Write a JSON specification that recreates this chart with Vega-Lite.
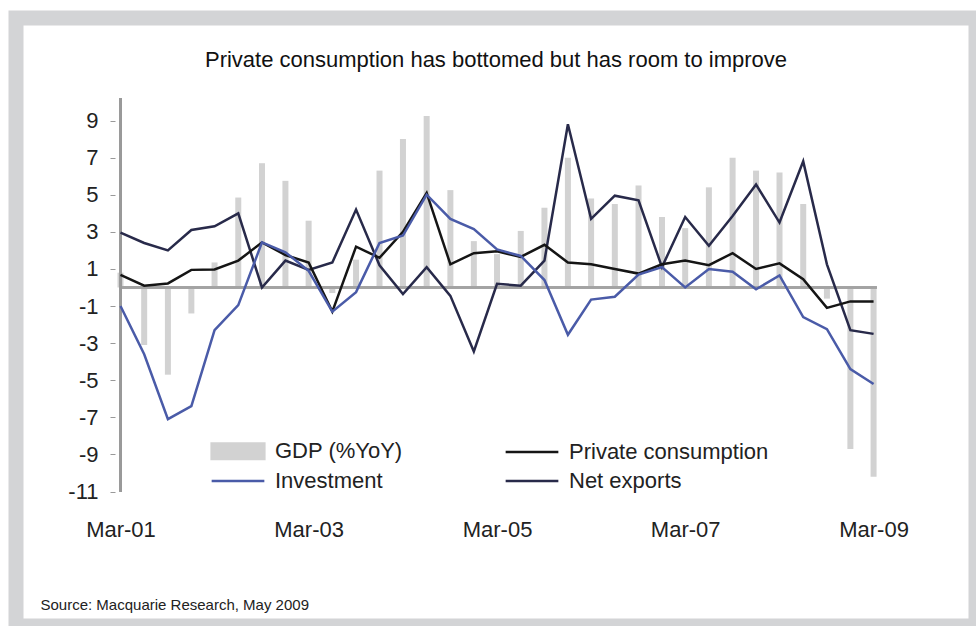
{
  "$schema": "https://vega.github.io/schema/vega-lite/v6.json",
  "width": 960,
  "height": 608,
  "autosize": {"type": "none"},
  "padding": {"left": 16, "top": 18, "right": 0, "bottom": 0},
  "background": "white",
  "config": {
    "view": {"stroke": "#d3d4d6", "strokeWidth": 15, "fill": "white"},
    "font": "Liberation Sans, Arial, sans-serif"
  },
  "title": {
    "text": "Private consumption has bottomed but has room to improve",
    "anchor": "middle",
    "frame": "group",
    "offset": -64,
    "baseline": "middle",
    "fontSize": 22,
    "fontWeight": "normal",
    "color": "#111111"
  },
  "data": {
    "values": [
      {"date": "2001-03-01", "gdp": 0.8, "consumption": 0.68, "investment": -1.0, "netExports": 2.96},
      {"date": "2001-06-01", "gdp": -3.1, "consumption": 0.1, "investment": -3.6, "netExports": 2.4},
      {"date": "2001-09-01", "gdp": -4.7, "consumption": 0.22, "investment": -7.1, "netExports": 2.0},
      {"date": "2001-12-01", "gdp": -1.4, "consumption": 0.95, "investment": -6.4, "netExports": 3.1},
      {"date": "2002-03-01", "gdp": 1.35, "consumption": 0.97, "investment": -2.3, "netExports": 3.3},
      {"date": "2002-06-01", "gdp": 4.85, "consumption": 1.45, "investment": -0.95, "netExports": 4.0},
      {"date": "2002-09-01", "gdp": 6.7, "consumption": 2.43, "investment": 2.43, "netExports": 0.0},
      {"date": "2002-12-01", "gdp": 5.75, "consumption": 1.75, "investment": 1.9, "netExports": 1.45},
      {"date": "2003-03-01", "gdp": 3.6, "consumption": 1.35, "investment": 0.9, "netExports": 0.95},
      {"date": "2003-06-01", "gdp": -0.3, "consumption": -1.3, "investment": -1.3, "netExports": 1.35},
      {"date": "2003-09-01", "gdp": 1.5, "consumption": 2.2, "investment": -0.25, "netExports": 4.2},
      {"date": "2003-12-01", "gdp": 6.3, "consumption": 1.6, "investment": 2.4, "netExports": 1.2},
      {"date": "2004-03-01", "gdp": 8.0, "consumption": 3.0, "investment": 2.8, "netExports": -0.35},
      {"date": "2004-06-01", "gdp": 9.25, "consumption": 5.1, "investment": 5.0, "netExports": 1.1},
      {"date": "2004-09-01", "gdp": 5.25, "consumption": 1.25, "investment": 3.7, "netExports": -0.45},
      {"date": "2004-12-01", "gdp": 2.5, "consumption": 1.85, "investment": 3.15, "netExports": -3.45},
      {"date": "2005-03-01", "gdp": 1.8, "consumption": 1.95, "investment": 2.05, "netExports": 0.2},
      {"date": "2005-06-01", "gdp": 3.05, "consumption": 1.65, "investment": 1.7, "netExports": 0.1},
      {"date": "2005-09-01", "gdp": 4.3, "consumption": 2.3, "investment": 0.4, "netExports": 1.45},
      {"date": "2005-12-01", "gdp": 7.0, "consumption": 1.35, "investment": -2.55, "netExports": 8.8},
      {"date": "2006-03-01", "gdp": 4.8, "consumption": 1.25, "investment": -0.65, "netExports": 3.7},
      {"date": "2006-06-01", "gdp": 4.5, "consumption": 1.0, "investment": -0.5, "netExports": 4.95},
      {"date": "2006-09-01", "gdp": 5.5, "consumption": 0.75, "investment": 0.7, "netExports": 4.7},
      {"date": "2006-12-01", "gdp": 3.8, "consumption": 1.25, "investment": 1.1, "netExports": 1.1},
      {"date": "2007-03-01", "gdp": 3.2, "consumption": 1.45, "investment": 0.0, "netExports": 3.8},
      {"date": "2007-06-01", "gdp": 5.4, "consumption": 1.2, "investment": 1.0, "netExports": 2.25},
      {"date": "2007-09-01", "gdp": 7.0, "consumption": 1.85, "investment": 0.85, "netExports": 3.85},
      {"date": "2007-12-01", "gdp": 6.3, "consumption": 1.0, "investment": -0.1, "netExports": 5.55},
      {"date": "2008-03-01", "gdp": 6.2, "consumption": 1.3, "investment": 0.65, "netExports": 3.5},
      {"date": "2008-06-01", "gdp": 4.5, "consumption": 0.45, "investment": -1.6, "netExports": 6.8},
      {"date": "2008-09-01", "gdp": -0.6, "consumption": -1.1, "investment": -2.25, "netExports": 1.25},
      {"date": "2008-12-01", "gdp": -8.7, "consumption": -0.75, "investment": -4.4, "netExports": -2.3},
      {"date": "2009-03-01", "gdp": -10.2, "consumption": -0.75, "investment": -5.2, "netExports": -2.5}
    ]
  },
  "layer": [
    {
      "mark": {"type": "bar", "size": 6},
      "encoding": {
        "x": {
          "field": "date",
          "type": "temporal",
          "scale": {
            "type": "utc",
            "domain": [
              {"year": 2000, "month": 2, "date": 9, "utc": true},
              {"year": 2010, "month": 3, "date": 14, "utc": true}
            ]
          },
          "axis": {
            "values": [
              {"year": 2001, "month": 3, "date": 1, "utc": true},
              {"year": 2003, "month": 3, "date": 1, "utc": true},
              {"year": 2005, "month": 3, "date": 1, "utc": true},
              {"year": 2007, "month": 3, "date": 1, "utc": true},
              {"year": 2009, "month": 3, "date": 1, "utc": true}
            ],
            "labelExpr": "utcFormat(datum.value, '%b-%y')",
            "domain": false,
            "ticks": false,
            "tickSize": 0,
            "grid": false,
            "labelPadding": 0,
            "labelBaseline": "middle",
            "labelFontSize": 22,
            "labelColor": "#222222",
            "labelFlush": false,
            "labelOverlap": false,
            "offset": -97,
            "title": "Source: Macquarie Research, May 2009",
            "titleX": 24,
            "titleY": 75,
            "titleAlign": "left",
            "titleBaseline": "middle",
            "titleFontSize": 15,
            "titleFontWeight": "normal",
            "titleColor": "#222222"
          }
        },
        "y": {
          "field": "gdp",
          "type": "quantitative",
          "scale": {"domain": [-18.248, 14.528], "nice": false, "zero": false},
          "axis": {
            "values": [9, 7, 5, 3, 1, -1, -3, -5, -7, -9, -11],
            "labelExpr": "'' + datum.value",
            "domain": false,
            "grid": false,
            "tickSize": 5,
            "tickColor": "#999999",
            "tickWidth": 1,
            "labelPadding": 12,
            "labelFontSize": 22,
            "labelColor": "#222222",
            "offset": -99,
            "title": null
          }
        },
        "color": {
          "datum": "GDP (%YoY)",
          "type": "nominal",
          "scale": {
            "domain": ["GDP (%YoY)", "Private consumption", "Investment", "Net exports"],
            "range": ["#d2d2d2", "#151515", "#4a5ba8", "#282a4a"]
          },
          "legend": {
            "title": null,
            "orient": "none",
            "legendX": 205,
            "legendY": 416,
            "columns": 2,
            "direction": "horizontal",
            "gridAlign": "each",
            "columnPadding": 97,
            "rowPadding": 0,
            "padding": 0,
            "symbolSize": 961,
            "labelOffset": 20,
            "labelFontSize": 22,
            "labelColor": "#222222",
            "labelLimit": 400,
            "encode": {
              "symbols": {
                "update": {
                  "shape": {"signal": "datum.value === 'GDP (%YoY)' ? 'M-1.7,-0.5H1.7V0.5H-1.7Z' : 'M-1.7,0H1.7'"},
                  "fill": {"signal": "datum.value === 'GDP (%YoY)' ? '#d2d2d2' : 'transparent'"},
                  "stroke": {"signal": "datum.value === 'GDP (%YoY)' ? 'transparent' : datum.value === 'Private consumption' ? '#151515' : datum.value === 'Investment' ? '#4a5ba8' : '#282a4a'"},
                  "strokeWidth": {"value": 2.5},
                  "opacity": {"value": 1}
                }
              }
            }
          }
        }
      }
    },
    {
      "mark": {"type": "rule", "color": "#a3a3a3", "strokeWidth": 1.5},
      "encoding": {
        "x": {"datum": {"year": 2001, "month": 3, "date": 1, "utc": true}, "type": "temporal"},
        "x2": {"datum": {"year": 2009, "month": 3, "date": 12, "utc": true}},
        "y": {"datum": 0, "type": "quantitative"}
      }
    },
    {
      "mark": {"type": "rule", "color": "#9a9a9a", "strokeWidth": 1.5},
      "encoding": {
        "x": {"datum": {"year": 2001, "month": 3, "date": 1, "utc": true}, "type": "temporal"},
        "y": {"datum": -11, "type": "quantitative"},
        "y2": {"datum": 10.2}
      }
    },
    {
      "mark": {"type": "line", "strokeWidth": 2.5},
      "encoding": {
        "x": {"field": "date", "type": "temporal"},
        "y": {"field": "netExports", "type": "quantitative", "title": null},
        "color": {"datum": "Net exports", "type": "nominal"}
      }
    },
    {
      "mark": {"type": "line", "strokeWidth": 2.5},
      "encoding": {
        "x": {"field": "date", "type": "temporal"},
        "y": {"field": "consumption", "type": "quantitative", "title": null},
        "color": {"datum": "Private consumption", "type": "nominal"}
      }
    },
    {
      "mark": {"type": "line", "strokeWidth": 2.5},
      "encoding": {
        "x": {"field": "date", "type": "temporal"},
        "y": {"field": "investment", "type": "quantitative", "title": null},
        "color": {"datum": "Investment", "type": "nominal"}
      }
    }
  ]
}
